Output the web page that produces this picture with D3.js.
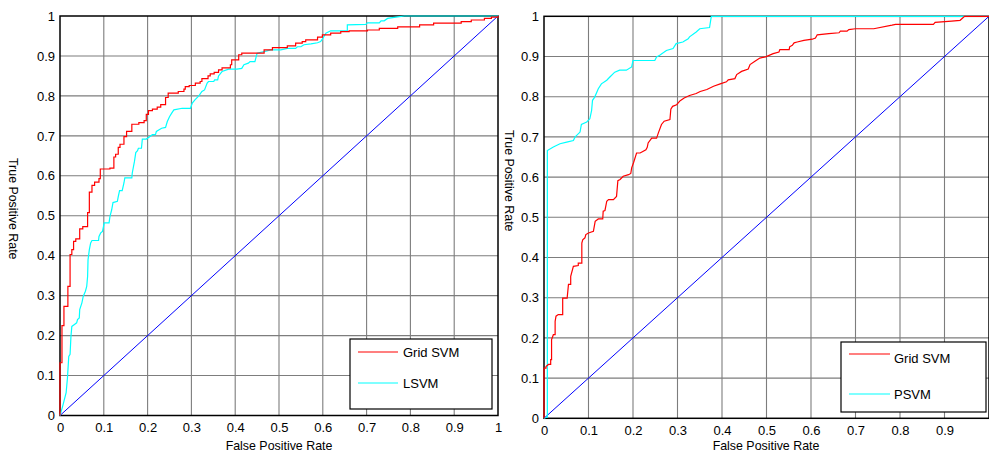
<!DOCTYPE html>
<html><head><meta charset="utf-8">
<script src="https://cdn.jsdelivr.net/npm/d3@7"></script>
<style>
body{margin:0;background:#fff}
svg{display:block}
text{font-family:"Liberation Sans",Arial,Helvetica,sans-serif;fill:#000}
</style>
</head><body>
<svg id="chart" width="989" height="457"></svg>
<script>
// ---------- data ----------
const xTicksLeft = [0,0.1,0.2,0.3,0.4,0.5,0.6,0.7,0.8,0.9,1];
const xTicksRight = [0,0.1,0.2,0.3,0.4,0.5,0.6,0.7,0.8,0.9];
const yTicks = [0,0.1,0.2,0.3,0.4,0.5,0.6,0.7,0.8,0.9,1];
const xLabel = "False Positive Rate";
const yLabel = "True Positive Rate";

// left panel: Grid SVM (step corners: fpr at rise, tpr after rise)
const leftGridSvm = [[0,0],[0,0.132],[0.0045,0.225],[0.009,0.273],[0.018,0.323],[0.023,0.403],[0.027,0.415],[0.031,0.436],[0.036,0.442],[0.045,0.467],[0.052,0.473],[0.063,0.508],[0.067,0.559],[0.073,0.576],[0.079,0.584],[0.089,0.593],[0.092,0.617],[0.114,0.619],[0.123,0.647],[0.127,0.654],[0.133,0.671],[0.137,0.679],[0.146,0.698],[0.152,0.711],[0.164,0.729],[0.180,0.733],[0.192,0.738],[0.197,0.754],[0.202,0.763],[0.211,0.767],[0.222,0.772],[0.230,0.778],[0.241,0.796],[0.247,0.807],[0.270,0.811],[0.283,0.817],[0.286,0.823],[0.295,0.826],[0.309,0.832],[0.320,0.836],[0.324,0.843],[0.338,0.850],[0.343,0.855],[0.352,0.859],[0.362,0.865],[0.370,0.870],[0.389,0.878],[0.392,0.890],[0.408,0.903],[0.415,0.907],[0.466,0.915],[0.485,0.921],[0.519,0.925],[0.538,0.932],[0.553,0.936],[0.561,0.940],[0.588,0.947],[0.599,0.953],[0.618,0.957],[0.641,0.961],[0.660,0.963],[0.702,0.965],[0.729,0.969],[0.771,0.973],[0.821,0.978],[0.853,0.982],[0.916,0.986],[0.939,0.990],[0.969,0.994],[0.985,0.997],[1,1],[1,1]];

// left panel: LSVM
const leftLsvm = [[0,0],[0.006,0.023],[0.014,0.057],[0.017,0.094],[0.020,0.148],[0.023,0.153],[0.025,0.198],[0.027,0.223],[0.033,0.228],[0.038,0.232],[0.040,0.240],[0.044,0.244],[0.045,0.265],[0.050,0.282],[0.053,0.298],[0.058,0.311],[0.061,0.323],[0.063,0.348],[0.064,0.390],[0.067,0.415],[0.070,0.432],[0.073,0.438],[0.088,0.438],[0.089,0.448],[0.093,0.457],[0.097,0.461],[0.101,0.482],[0.112,0.482],[0.114,0.498],[0.118,0.515],[0.121,0.533],[0.131,0.536],[0.133,0.548],[0.136,0.563],[0.142,0.563],[0.146,0.582],[0.148,0.595],[0.164,0.595],[0.165,0.607],[0.170,0.636],[0.173,0.658],[0.177,0.663],[0.179,0.669],[0.186,0.669],[0.188,0.692],[0.197,0.692],[0.211,0.703],[0.218,0.703],[0.220,0.711],[0.232,0.719],[0.241,0.721],[0.245,0.736],[0.250,0.748],[0.255,0.757],[0.260,0.765],[0.279,0.769],[0.298,0.769],[0.302,0.782],[0.308,0.790],[0.317,0.800],[0.324,0.811],[0.330,0.815],[0.336,0.832],[0.339,0.836],[0.351,0.836],[0.353,0.840],[0.360,0.840],[0.362,0.850],[0.370,0.861],[0.385,0.867],[0.404,0.867],[0.415,0.869],[0.420,0.878],[0.430,0.882],[0.434,0.886],[0.445,0.886],[0.450,0.907],[0.466,0.911],[0.481,0.915],[0.504,0.915],[0.519,0.919],[0.538,0.919],[0.542,0.923],[0.550,0.923],[0.557,0.928],[0.573,0.930],[0.588,0.933],[0.595,0.936],[0.599,0.942],[0.607,0.957],[0.618,0.963],[0.656,0.963],[0.656,0.978],[0.698,0.979],[0.702,0.983],[0.729,0.983],[0.733,0.988],[0.740,0.988],[0.748,0.994],[0.771,0.998],[0.786,1],[1,1]];

// right panel: Grid SVM
const rightGridSvm = [[0,0],[0,0.125],[0.0045,0.125],[0.0045,0.129],[0.010,0.134],[0.015,0.134],[0.015,0.146],[0.017,0.146],[0.017,0.196],[0.021,0.208],[0.025,0.208],[0.025,0.241],[0.027,0.254],[0.032,0.258],[0.042,0.258],[0.042,0.299],[0.052,0.299],[0.055,0.333],[0.060,0.333],[0.060,0.353],[0.066,0.378],[0.077,0.380],[0.077,0.386],[0.085,0.386],[0.085,0.436],[0.087,0.444],[0.092,0.449],[0.094,0.457],[0.100,0.461],[0.111,0.465],[0.115,0.490],[0.122,0.496],[0.132,0.496],[0.133,0.515],[0.137,0.517],[0.141,0.540],[0.145,0.544],[0.156,0.544],[0.163,0.552],[0.166,0.591],[0.171,0.594],[0.178,0.602],[0.190,0.606],[0.195,0.609],[0.197,0.623],[0.201,0.635],[0.208,0.660],[0.216,0.660],[0.229,0.668],[0.232,0.674],[0.234,0.685],[0.242,0.697],[0.253,0.697],[0.257,0.710],[0.264,0.731],[0.270,0.739],[0.283,0.743],[0.285,0.769],[0.289,0.776],[0.298,0.780],[0.306,0.790],[0.315,0.797],[0.327,0.803],[0.342,0.808],[0.351,0.813],[0.366,0.818],[0.381,0.826],[0.396,0.832],[0.410,0.837],[0.414,0.842],[0.429,0.845],[0.433,0.855],[0.444,0.863],[0.459,0.869],[0.463,0.880],[0.474,0.888],[0.485,0.896],[0.498,0.899],[0.515,0.907],[0.528,0.911],[0.530,0.917],[0.551,0.917],[0.552,0.924],[0.558,0.928],[0.562,0.934],[0.569,0.936],[0.584,0.940],[0.603,0.943],[0.610,0.946],[0.614,0.954],[0.640,0.957],[0.663,0.959],[0.666,0.963],[0.681,0.963],[0.685,0.967],[0.700,0.969],[0.741,0.969],[0.782,0.978],[0.790,0.980],[0.875,0.980],[0.879,0.985],[0.916,0.988],[0.935,0.990],[0.939,0.994],[0.945,1],[1,1]];

// right panel: PSVM
const rightPsvm = [[0,0],[0.0075,0.003],[0.0075,0.666],[0.021,0.675],[0.036,0.683],[0.051,0.687],[0.066,0.691],[0.070,0.700],[0.081,0.712],[0.084,0.731],[0.096,0.737],[0.103,0.745],[0.107,0.766],[0.109,0.791],[0.114,0.799],[0.122,0.820],[0.129,0.832],[0.141,0.841],[0.148,0.849],[0.159,0.861],[0.170,0.866],[0.185,0.866],[0.197,0.874],[0.200,0.890],[0.249,0.890],[0.253,0.899],[0.260,0.903],[0.275,0.915],[0.290,0.920],[0.297,0.932],[0.312,0.936],[0.324,0.944],[0.327,0.949],[0.342,0.961],[0.350,0.969],[0.372,0.972],[0.376,1],[1,1]];

const diagonal = [[0,0],[1,1]];

const panels = [
  {x0:60, x1:498, y0:415.5, y1:16, xTicks:xTicksLeft, yLabelPos:[8.5,158],
   red:leftGridSvm, redStep:true, cyan:leftLsvm, names:["Grid SVM","LSVM"],
   legend:{x:350,y:339,w:142,h:70,lx0:358,lx1:398,tx:403,rows:[[352,357],[383,388]]},
   xLabelX:279},
  {x0:544, x1:989, y0:418.3, y1:16.3, xTicks:xTicksRight, yLabelPos:[505,130],
   red:rightGridSvm, redStep:false, cyan:rightPsvm, names:["Grid SVM","PSVM"],
   legend:{x:841,y:342,w:145,h:70,lx0:849,lx1:890,tx:894,rows:[[354,363],[394,399]]},
   xLabelX:766}
];

const svg = d3.select("#chart");
const fmt = d => d===0 ? "0" : d===1 ? "1" : d3.format(".1f")(d);

panels.forEach(p => {
  const x = d3.scaleLinear().domain([0,1]).range([p.x0,p.x1]);
  const y = d3.scaleLinear().domain([0,1]).range([p.y0,p.y1]);
  const g = svg.append("g");

  // grid
  g.append("g").selectAll("line").data(xTicksLeft.filter(t=>t>0&&t<1)).join("line")
    .attr("x1",d=>x(d)).attr("x2",d=>x(d)).attr("y1",y(0)).attr("y2",y(1))
    .attr("stroke","#7d7d7d").attr("stroke-width",1.1);
  g.append("g").selectAll("line").data(yTicks.filter(t=>t>0&&t<1)).join("line")
    .attr("y1",d=>y(d)).attr("y2",d=>y(d)).attr("x1",x(0)).attr("x2",x(1))
    .attr("stroke","#7d7d7d").attr("stroke-width",1.1);

  // frame
  g.append("rect").attr("x",x(0)).attr("y",y(1)).attr("width",x(1)-x(0)).attr("height",y(0)-y(1))
    .attr("fill","none").attr("stroke","#000").attr("stroke-width",1.5);

  // tick labels via d3 axes
  const xAxis = d3.axisBottom(x).tickValues(p.xTicks).tickFormat(fmt).tickSize(0).tickPadding(7);
  const xa = g.append("g").attr("transform",`translate(0,${y(0)})`).call(xAxis);
  xa.select(".domain").remove();
  xa.selectAll("text").attr("font-size",13).attr("font-family","Liberation Sans, Arial, sans-serif");

  const yAxis = d3.axisLeft(y).tickValues(yTicks).tickFormat(fmt).tickSize(0).tickPadding(5);
  const ya = g.append("g").attr("transform",`translate(${x(0)},0)`).call(yAxis);
  ya.select(".domain").remove();
  ya.selectAll("text").attr("font-size",13).attr("font-family","Liberation Sans, Arial, sans-serif");

  // axis titles
  g.append("text").attr("x",p.xLabelX).attr("y",450).attr("text-anchor","middle")
    .attr("font-size",12.4).text(xLabel);
  g.append("text").attr("transform",`translate(${p.yLabelPos[0]},${p.yLabelPos[1]}) rotate(90)`)
    .attr("text-anchor","start").attr("font-size",12.4).text(yLabel);

  // curves
  const line = d3.line().x(d=>x(d[0])).y(d=>y(d[1]));
  g.append("path").datum(diagonal).attr("d",line).attr("fill","none").attr("stroke","#0000ff").attr("stroke-width",1);
  g.append("path").datum(p.cyan).attr("d",line).attr("fill","none").attr("stroke","#00ffff").attr("stroke-width",1.2);
  const redLine = d3.line().x(d=>x(d[0])).y(d=>y(d[1])).curve(p.redStep ? d3.curveStepAfter : d3.curveLinear);
  g.append("path").datum(p.red).attr("d",redLine).attr("fill","none").attr("stroke","#ff0000").attr("stroke-width",1.2);

  // legend
  const L = p.legend;
  const lg = g.append("g");
  lg.append("rect").attr("x",L.x).attr("y",L.y).attr("width",L.w).attr("height",L.h)
    .attr("fill","#fff").attr("stroke","#000").attr("stroke-width",1.2);
  const cols = ["#ff0000","#00ffff"];
  L.rows.forEach((r,i) => {
    lg.append("line").attr("x1",L.lx0).attr("x2",L.lx1).attr("y1",r[0]).attr("y2",r[0])
      .attr("stroke",cols[i]).attr("stroke-width",1.2);
    lg.append("text").attr("x",L.tx).attr("y",r[1]).attr("font-size",13).text(p.names[i]);
  });
});
</script>
</body></html>
